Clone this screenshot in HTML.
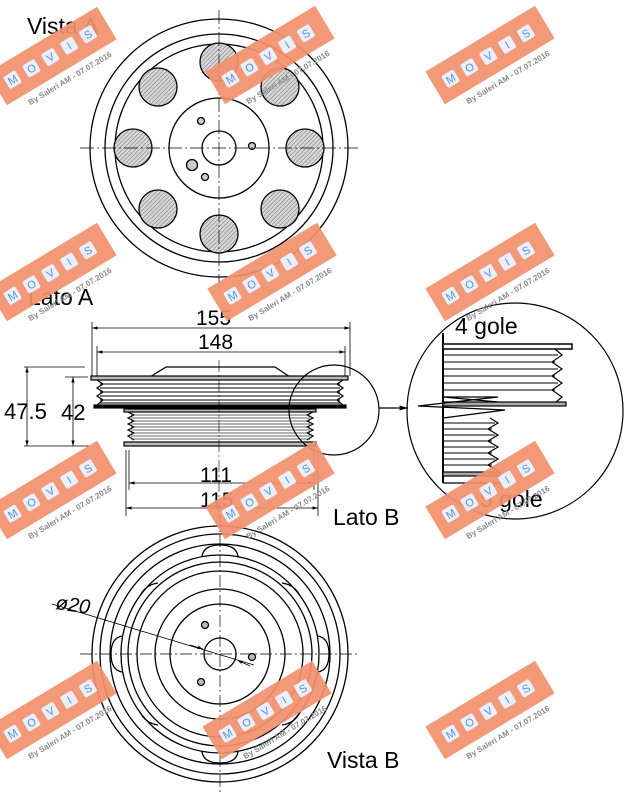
<!DOCTYPE html>
<html><head><meta charset="utf-8"><style>
html,body{margin:0;padding:0;background:#fff;}
svg{display:block;font-family:"Liberation Sans",sans-serif;}
.wm-t{font-size:8px;font-weight:bold;fill:#8a8a8a;}
.wm-l{font-size:11px;fill:#5b8fd6;text-anchor:middle;}
.wb{fill:#e9f0fb;}
</style></head><body>
<svg width="640" height="800" viewBox="0 0 640 800" xmlns="http://www.w3.org/2000/svg">
<defs>
<pattern id="h" width="3" height="3" patternUnits="userSpaceOnUse" patternTransform="rotate(45)">
<rect width="3" height="3" fill="#d8d8d8"/><line x1="0" y1="0" x2="0" y2="3" stroke="#555" stroke-width="0.8"/>
</pattern>
<marker id="a" viewBox="0 0 10 10" refX="10" refY="5" markerWidth="7" markerHeight="7" orient="auto-start-reverse"><path d="M0,2 L10,5 L0,8 z" fill="#000"/></marker>
</defs>

<!-- TOP VIEW -->
<g stroke="#000" fill="none" stroke-width="1.3">
<circle cx="219" cy="148" r="129"/>
<circle cx="219" cy="148" r="114"/>
<circle cx="219" cy="148" r="104"/>
<circle cx="219" cy="148" r="50"/>
<circle cx="219" cy="148" r="17"/>
<g fill="url(#h)">
<circle cx="219" cy="62" r="19"/><circle cx="280" cy="87" r="19"/><circle cx="305" cy="148" r="19"/><circle cx="280" cy="209" r="19"/>
<circle cx="219" cy="234" r="19"/><circle cx="158" cy="209" r="19"/><circle cx="133" cy="148" r="19"/><circle cx="158" cy="87" r="19"/>
</g>
<circle cx="201" cy="121" r="3.5" fill="#ccc"/><circle cx="252" cy="146" r="3.5" fill="#ccc"/>
<circle cx="192" cy="165" r="5.5" fill="#ccc"/><circle cx="205" cy="177" r="3.5" fill="#ccc"/>
</g>
<g stroke="#000" stroke-width="0.7" stroke-dasharray="14,3,2,3">
<line x1="219" y1="10" x2="219" y2="290"/><line x1="80" y1="148" x2="360" y2="148"/>
</g>

<!-- SIDE VIEW -->
<g stroke="#000" stroke-width="1.2" fill="none">
<polygon points="150,377 166,367 275,367 290,377" fill="#fff"/>
<rect x="91" y="376" width="257" height="4" fill="#bbb"/>
<path d="M97,380 L103,384 L97,388 L103,392 L97,396 L103,400 L97,405"/>
<path d="M343,380 L337,384 L343,388 L337,392 L343,396 L337,400 L343,405"/>
<g stroke-width="0.9"><line x1="100" y1="384" x2="340" y2="384"/><line x1="100" y1="388" x2="340" y2="388"/><line x1="100" y1="392" x2="340" y2="392"/><line x1="100" y1="396" x2="340" y2="396"/><line x1="100" y1="400" x2="340" y2="400"/><line x1="100" y1="403" x2="340" y2="403"/></g>
<rect x="94" y="405" width="252" height="3" fill="#000"/>
<rect x="124" y="409" width="192" height="3" fill="#bbb"/>
<path d="M128,412 L134,415 L128,418 L134,421 L128,424 L134,427 L128,430 L134,433 L128,436 L134,440"/>
<path d="M313,412 L307,415 L313,418 L307,421 L313,424 L307,427 L313,430 L307,433 L313,436 L307,440"/>
<g stroke-width="0.8" stroke="#333"><line x1="131" y1="415" x2="310" y2="415"/><line x1="131" y1="418" x2="310" y2="418"/><line x1="131" y1="421" x2="310" y2="421"/><line x1="131" y1="424" x2="310" y2="424"/><line x1="131" y1="427" x2="310" y2="427"/><line x1="131" y1="430" x2="310" y2="430"/><line x1="131" y1="433" x2="310" y2="433"/><line x1="131" y1="436" x2="310" y2="436"/><line x1="131" y1="439" x2="310" y2="439"/></g>
<rect x="124" y="442" width="192" height="4" fill="#bbb"/>
<ellipse cx="334" cy="410" rx="45" ry="45"/>
<line x1="379" y1="408" x2="408" y2="408" marker-end="url(#a)"/>
</g>
<line x1="219" y1="360" x2="219" y2="520" stroke="#000" stroke-width="0.6" stroke-dasharray="12,3,2,3"/>

<!-- dimensions -->
<g stroke="#000" stroke-width="0.8" fill="none">
<line x1="92" y1="322" x2="92" y2="376"/><line x1="350" y1="322" x2="350" y2="376"/>
<line x1="92" y1="328" x2="350" y2="328" marker-start="url(#a)" marker-end="url(#a)"/>
<line x1="97" y1="346" x2="97" y2="376"/><line x1="345" y1="346" x2="345" y2="376"/>
<line x1="97" y1="352" x2="345" y2="352" marker-start="url(#a)" marker-end="url(#a)"/>
<line x1="24" y1="367" x2="85" y2="367"/><line x1="24" y1="446" x2="90" y2="446"/><line x1="65" y1="377" x2="88" y2="377"/>
<line x1="27" y1="367" x2="27" y2="446" marker-start="url(#a)" marker-end="url(#a)"/>
<line x1="73" y1="377" x2="73" y2="446" marker-start="url(#a)" marker-end="url(#a)"/>
<line x1="126" y1="450" x2="126" y2="516"/><line x1="129" y1="450" x2="129" y2="490"/>
<line x1="314" y1="450" x2="314" y2="490"/><line x1="318" y1="450" x2="318" y2="516"/>
<line x1="129" y1="483" x2="314" y2="483" marker-start="url(#a)" marker-end="url(#a)"/>
<line x1="126" y1="508" x2="318" y2="508" marker-start="url(#a)" marker-end="url(#a)"/>
</g>
<g font-size="21" fill="#000">
<text x="196" y="325">155</text><text x="198" y="349">148</text>
<text x="4" y="419" font-size="22">47.5</text><text x="61" y="420" font-size="22">42</text>
<text x="200" y="482">111</text><text x="200" y="507">115</text>
<text x="333" y="525" font-size="23">Lato B</text>
<text x="28" y="305" font-size="23">Lato A</text>
<text x="27" y="34" font-size="23">Vista A</text>
<text x="327" y="768" font-size="23">Vista B</text>
<text x="455" y="334" font-size="23">4 gole</text>
<text x="480" y="507" font-size="23">5 gole</text>
</g>

<!-- DETAIL -->
<g stroke="#000" stroke-width="1.2" fill="none">
<ellipse cx="515" cy="411" rx="108" ry="108"/>
<line x1="443" y1="333" x2="443" y2="483" stroke-width="2"/>
<rect x="443" y="344" width="129" height="5" fill="#fff" stroke-width="1.5"/>
<path d="M555,349 L562,355 L552,362 L562,369 L552,376 L562,383 L552,390 L562,397 L555,403"/>
<g stroke-width="1"><line x1="443" y1="355" x2="558" y2="355"/><line x1="443" y1="362" x2="555" y2="362"/><line x1="443" y1="369" x2="558" y2="369"/><line x1="443" y1="376" x2="555" y2="376"/><line x1="443" y1="383" x2="558" y2="383"/><line x1="443" y1="390" x2="555" y2="390"/></g>
<rect x="443" y="402" width="123" height="4" fill="#aaa"/>
<path d="M443,397 L498,397 M443,397 L498,402 M418,406 L498,397 M418,406 L505,410 L443,418" stroke-width="1.3"/>
<path d="M490,418 L498,423 L488,429 L498,435 L488,441 L498,447 L488,453 L498,459 L488,465 L498,471"/>
<g stroke-width="1"><line x1="443" y1="423" x2="495" y2="423"/><line x1="443" y1="429" x2="492" y2="429"/><line x1="443" y1="435" x2="495" y2="435"/><line x1="443" y1="441" x2="492" y2="441"/><line x1="443" y1="447" x2="495" y2="447"/><line x1="443" y1="453" x2="492" y2="453"/><line x1="443" y1="459" x2="495" y2="459"/><line x1="443" y1="465" x2="492" y2="465"/></g>
<rect x="443" y="472" width="57" height="4" fill="#aaa"/>
<line x1="443" y1="483" x2="503" y2="483"/>
</g>

<!-- BOTTOM VIEW -->
<g stroke="#000" stroke-width="1.3" fill="none">
<circle cx="220" cy="654" r="128"/>
<circle cx="220" cy="654" r="120"/>
<circle cx="220" cy="654" r="110"/>
<circle cx="220" cy="654" r="99"/>
<circle cx="220" cy="654" r="92"/>
<circle cx="220" cy="654" r="83"/>
<circle cx="220" cy="654" r="65"/>
<circle cx="220" cy="654" r="50"/>
<circle cx="220" cy="654" r="16"/>
<path d="M202,556 Q204,545 220,545 Q236,545 238,556 M202,752 Q204,763 220,763 Q236,763 238,752 M122,636 Q111,638 111,654 Q111,670 122,672 M318,636 Q329,638 329,654 Q329,670 318,672"/>
<path d="M140,596 Q145,585 158,583 M300,596 Q295,585 282,583 M140,712 Q145,723 158,725 M300,712 Q295,723 282,725"/>
<circle cx="205" cy="625" r="3.5" fill="#bbb"/><circle cx="252" cy="657" r="3.5" fill="#bbb"/><circle cx="201" cy="682" r="3.5" fill="#bbb"/>
</g>
<g stroke="#000" stroke-width="0.7" stroke-dasharray="12,3,2,3">
<line x1="220" y1="515" x2="220" y2="795"/><line x1="80" y1="654" x2="360" y2="654"/>
</g>
<line x1="52" y1="604" x2="254" y2="665" stroke="#000" stroke-width="0.8"/>
<line x1="190" y1="645" x2="203" y2="649" stroke="#000" stroke-width="0.8" marker-end="url(#a)"/>
<line x1="250" y1="666" x2="237" y2="660" stroke="#000" stroke-width="0.8" marker-end="url(#a)"/>
<text x="55" y="609" font-size="20" font-style="italic" transform="rotate(8 55 609)">ø20</text>

<!-- WATERMARKS -->
<g id="w1" transform="translate(52,56) rotate(-31)">
<rect x="-64" y="-19" width="128" height="38" fill="#f2906d" opacity="0.92"/>
<rect class="wb" x="-53" y="-7" width="14" height="14" rx="2"/><text class="wm-l" x="-46" y="4">M</text>
<rect class="wb" x="-31" y="-7" width="14" height="14" rx="2"/><text class="wm-l" x="-24" y="4">O</text>
<rect class="wb" x="-9" y="-7" width="14" height="14" rx="2"/><text class="wm-l" x="-2" y="4">V</text>
<rect class="wb" x="13" y="-7" width="14" height="14" rx="2"/><text class="wm-l" x="20" y="4">I</text>
<rect class="wb" x="35" y="-7" width="14" height="14" rx="2"/><text class="wm-l" x="42" y="4">S</text>
<text class="wm-t" x="-44" y="31">By Saleri AM - 07.07.2016</text></g>
<g transform="translate(270,55) rotate(-31)"><rect x="-64" y="-19" width="128" height="38" fill="#f2906d" opacity="0.92"/><rect class="wb" x="-53" y="-7" width="14" height="14" rx="2"/><text class="wm-l" x="-46" y="4">M</text><rect class="wb" x="-31" y="-7" width="14" height="14" rx="2"/><text class="wm-l" x="-24" y="4">O</text><rect class="wb" x="-9" y="-7" width="14" height="14" rx="2"/><text class="wm-l" x="-2" y="4">V</text><rect class="wb" x="13" y="-7" width="14" height="14" rx="2"/><text class="wm-l" x="20" y="4">I</text><rect class="wb" x="35" y="-7" width="14" height="14" rx="2"/><text class="wm-l" x="42" y="4">S</text><text class="wm-t" x="-44" y="31">By Saleri AM - 07.07.2016</text></g>
<g transform="translate(490,55) rotate(-31)"><rect x="-64" y="-19" width="128" height="38" fill="#f2906d" opacity="0.92"/><rect class="wb" x="-53" y="-7" width="14" height="14" rx="2"/><text class="wm-l" x="-46" y="4">M</text><rect class="wb" x="-31" y="-7" width="14" height="14" rx="2"/><text class="wm-l" x="-24" y="4">O</text><rect class="wb" x="-9" y="-7" width="14" height="14" rx="2"/><text class="wm-l" x="-2" y="4">V</text><rect class="wb" x="13" y="-7" width="14" height="14" rx="2"/><text class="wm-l" x="20" y="4">I</text><rect class="wb" x="35" y="-7" width="14" height="14" rx="2"/><text class="wm-l" x="42" y="4">S</text><text class="wm-t" x="-44" y="31">By Saleri AM - 07.07.2016</text></g>
<g transform="translate(52,272) rotate(-31)"><rect x="-64" y="-19" width="128" height="38" fill="#f2906d" opacity="0.92"/><rect class="wb" x="-53" y="-7" width="14" height="14" rx="2"/><text class="wm-l" x="-46" y="4">M</text><rect class="wb" x="-31" y="-7" width="14" height="14" rx="2"/><text class="wm-l" x="-24" y="4">O</text><rect class="wb" x="-9" y="-7" width="14" height="14" rx="2"/><text class="wm-l" x="-2" y="4">V</text><rect class="wb" x="13" y="-7" width="14" height="14" rx="2"/><text class="wm-l" x="20" y="4">I</text><rect class="wb" x="35" y="-7" width="14" height="14" rx="2"/><text class="wm-l" x="42" y="4">S</text><text class="wm-t" x="-44" y="31">By Saleri AM - 07.07.2016</text></g>
<g transform="translate(272,272) rotate(-31)"><rect x="-64" y="-19" width="128" height="38" fill="#f2906d" opacity="0.92"/><rect class="wb" x="-53" y="-7" width="14" height="14" rx="2"/><text class="wm-l" x="-46" y="4">M</text><rect class="wb" x="-31" y="-7" width="14" height="14" rx="2"/><text class="wm-l" x="-24" y="4">O</text><rect class="wb" x="-9" y="-7" width="14" height="14" rx="2"/><text class="wm-l" x="-2" y="4">V</text><rect class="wb" x="13" y="-7" width="14" height="14" rx="2"/><text class="wm-l" x="20" y="4">I</text><rect class="wb" x="35" y="-7" width="14" height="14" rx="2"/><text class="wm-l" x="42" y="4">S</text><text class="wm-t" x="-44" y="31">By Saleri AM - 07.07.2016</text></g>
<g transform="translate(490,272) rotate(-31)"><rect x="-64" y="-19" width="128" height="38" fill="#f2906d" opacity="0.92"/><rect class="wb" x="-53" y="-7" width="14" height="14" rx="2"/><text class="wm-l" x="-46" y="4">M</text><rect class="wb" x="-31" y="-7" width="14" height="14" rx="2"/><text class="wm-l" x="-24" y="4">O</text><rect class="wb" x="-9" y="-7" width="14" height="14" rx="2"/><text class="wm-l" x="-2" y="4">V</text><rect class="wb" x="13" y="-7" width="14" height="14" rx="2"/><text class="wm-l" x="20" y="4">I</text><rect class="wb" x="35" y="-7" width="14" height="14" rx="2"/><text class="wm-l" x="42" y="4">S</text><text class="wm-t" x="-44" y="31">By Saleri AM - 07.07.2016</text></g>
<g transform="translate(52,490) rotate(-31)"><rect x="-64" y="-19" width="128" height="38" fill="#f2906d" opacity="0.92"/><rect class="wb" x="-53" y="-7" width="14" height="14" rx="2"/><text class="wm-l" x="-46" y="4">M</text><rect class="wb" x="-31" y="-7" width="14" height="14" rx="2"/><text class="wm-l" x="-24" y="4">O</text><rect class="wb" x="-9" y="-7" width="14" height="14" rx="2"/><text class="wm-l" x="-2" y="4">V</text><rect class="wb" x="13" y="-7" width="14" height="14" rx="2"/><text class="wm-l" x="20" y="4">I</text><rect class="wb" x="35" y="-7" width="14" height="14" rx="2"/><text class="wm-l" x="42" y="4">S</text><text class="wm-t" x="-44" y="31">By Saleri AM - 07.07.2016</text></g>
<g transform="translate(270,490) rotate(-31)"><rect x="-64" y="-19" width="128" height="38" fill="#f2906d" opacity="0.92"/><rect class="wb" x="-53" y="-7" width="14" height="14" rx="2"/><text class="wm-l" x="-46" y="4">M</text><rect class="wb" x="-31" y="-7" width="14" height="14" rx="2"/><text class="wm-l" x="-24" y="4">O</text><rect class="wb" x="-9" y="-7" width="14" height="14" rx="2"/><text class="wm-l" x="-2" y="4">V</text><rect class="wb" x="13" y="-7" width="14" height="14" rx="2"/><text class="wm-l" x="20" y="4">I</text><rect class="wb" x="35" y="-7" width="14" height="14" rx="2"/><text class="wm-l" x="42" y="4">S</text><text class="wm-t" x="-44" y="31">By Saleri AM - 07.07.2016</text></g>
<g transform="translate(490,490) rotate(-31)"><rect x="-64" y="-19" width="128" height="38" fill="#f2906d" opacity="0.92"/><rect class="wb" x="-53" y="-7" width="14" height="14" rx="2"/><text class="wm-l" x="-46" y="4">M</text><rect class="wb" x="-31" y="-7" width="14" height="14" rx="2"/><text class="wm-l" x="-24" y="4">O</text><rect class="wb" x="-9" y="-7" width="14" height="14" rx="2"/><text class="wm-l" x="-2" y="4">V</text><rect class="wb" x="13" y="-7" width="14" height="14" rx="2"/><text class="wm-l" x="20" y="4">I</text><rect class="wb" x="35" y="-7" width="14" height="14" rx="2"/><text class="wm-l" x="42" y="4">S</text><text class="wm-t" x="-44" y="31">By Saleri AM - 07.07.2016</text></g>
<g transform="translate(52,710) rotate(-31)"><rect x="-64" y="-19" width="128" height="38" fill="#f2906d" opacity="0.92"/><rect class="wb" x="-53" y="-7" width="14" height="14" rx="2"/><text class="wm-l" x="-46" y="4">M</text><rect class="wb" x="-31" y="-7" width="14" height="14" rx="2"/><text class="wm-l" x="-24" y="4">O</text><rect class="wb" x="-9" y="-7" width="14" height="14" rx="2"/><text class="wm-l" x="-2" y="4">V</text><rect class="wb" x="13" y="-7" width="14" height="14" rx="2"/><text class="wm-l" x="20" y="4">I</text><rect class="wb" x="35" y="-7" width="14" height="14" rx="2"/><text class="wm-l" x="42" y="4">S</text><text class="wm-t" x="-44" y="31">By Saleri AM - 07.07.2016</text></g>
<g transform="translate(267,710) rotate(-31)"><rect x="-64" y="-19" width="128" height="38" fill="#f2906d" opacity="0.92"/><rect class="wb" x="-53" y="-7" width="14" height="14" rx="2"/><text class="wm-l" x="-46" y="4">M</text><rect class="wb" x="-31" y="-7" width="14" height="14" rx="2"/><text class="wm-l" x="-24" y="4">O</text><rect class="wb" x="-9" y="-7" width="14" height="14" rx="2"/><text class="wm-l" x="-2" y="4">V</text><rect class="wb" x="13" y="-7" width="14" height="14" rx="2"/><text class="wm-l" x="20" y="4">I</text><rect class="wb" x="35" y="-7" width="14" height="14" rx="2"/><text class="wm-l" x="42" y="4">S</text><text class="wm-t" x="-44" y="31">By Saleri AM - 07.07.2016</text></g>
<g transform="translate(490,710) rotate(-31)"><rect x="-64" y="-19" width="128" height="38" fill="#f2906d" opacity="0.92"/><rect class="wb" x="-53" y="-7" width="14" height="14" rx="2"/><text class="wm-l" x="-46" y="4">M</text><rect class="wb" x="-31" y="-7" width="14" height="14" rx="2"/><text class="wm-l" x="-24" y="4">O</text><rect class="wb" x="-9" y="-7" width="14" height="14" rx="2"/><text class="wm-l" x="-2" y="4">V</text><rect class="wb" x="13" y="-7" width="14" height="14" rx="2"/><text class="wm-l" x="20" y="4">I</text><rect class="wb" x="35" y="-7" width="14" height="14" rx="2"/><text class="wm-l" x="42" y="4">S</text><text class="wm-t" x="-44" y="31">By Saleri AM - 07.07.2016</text></g>
</svg>
</body></html>
